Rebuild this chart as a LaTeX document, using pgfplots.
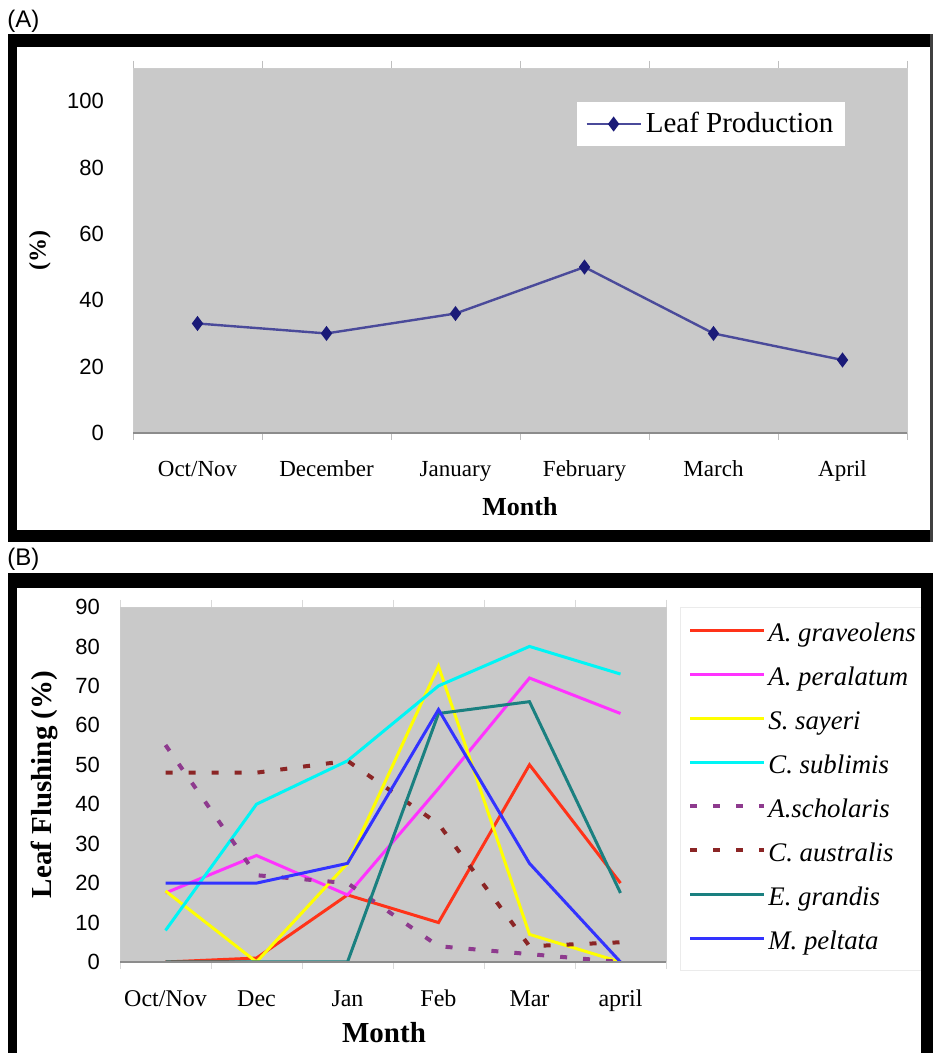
\documentclass[border=0pt]{standalone}
\usepackage{fontspec}
\setmainfont{Liberation Serif}
\setsansfont{Liberation Sans}
\usepackage{pgfplots}
\pgfplotsset{compat=1.18}

\definecolor{plotgray}{HTML}{C9C9C9}
\definecolor{lineA}{HTML}{4A4A9A}
\definecolor{markA}{HTML}{1A1A78}
\definecolor{cRed}{HTML}{FF3319}
\definecolor{cMag}{HTML}{FF33FF}
\definecolor{cYel}{HTML}{FFFF00}
\definecolor{cCya}{HTML}{00F5F5}
\definecolor{cPur}{HTML}{8E3A8E}
\definecolor{cBro}{HTML}{8B2525}
\definecolor{cTea}{HTML}{1A8080}
\definecolor{cBlu}{HTML}{3333FF}

\begin{document}
\begin{tikzpicture}
\useasboundingbox (0,0) rectangle (468pt,526.5pt);
\fill[white] (0,0) rectangle (468pt,526.5pt);

% ---------- Panel A ----------
\begin{axis}[
  at={(66.5pt,310pt)}, anchor=south west,
  scale only axis, width=387pt, height=182.5pt,
  xmin=-0.5, xmax=5.5, ymin=0, ymax=110,
  axis background/.style={fill=plotgray, draw=black!20},
  axis line style={draw=none},
  xtick={0,...,5},
  xticklabels={Oct/Nov,December,January,February,March,April},
  ytick={0,20,...,100},
  major tick length=0pt,
  tick style={draw=none},
  extra x ticks={-0.5,0.5,...,5.5},
  extra x tick labels={},
  extra x tick style={major tick length=3.5pt, tick align=outside, tick style={draw=black!25, thin}},
  /pgf/number format/assume math mode=true,
  xticklabel style={font=\fontsize{11.5}{13}\selectfont, anchor=base, yshift=-22pt},
  yticklabel style={font=\sffamily\fontsize{11}{13}\selectfont, anchor=east, xshift=-11pt},
  xlabel={Month}, ylabel={(\%)},
  xlabel style={font=\bfseries\fontsize{13}{15}\selectfont, at={(axis description cs:0.5,0)}, anchor=center, yshift=-37pt},
  ylabel style={font=\bfseries\fontsize{12}{14}\selectfont, at={(axis description cs:-0.1202,0.5)}, anchor=center},
  legend style={at={(axis description cs:0.921,0.907)}, anchor=north east, draw=none, fill=white,
    font=\fontsize{14.5}{16}\selectfont, inner xsep=4pt, inner ysep=3pt, nodes={inner sep=2pt}},
  legend image code/.code={\draw[mark repeat=2,mark phase=2,#1] plot coordinates {(0pt,0pt) (13.5pt,0pt) (27pt,0pt)};},
  extra description/.code={\draw[black!45, line width=0.6pt] (rel axis cs:0,0) -- (rel axis cs:1,0);},
]
\addplot[color=lineA, line width=1.2pt, mark=diamond*, mark size=2.8pt, mark options={fill=markA, draw=markA}]
  coordinates {(0,33) (1,30) (2,36) (3,50) (4,30) (5,22)};
\addlegendentry{Leaf Production}
\end{axis}

% ---------- Panel B ----------
\begin{axis}[
  at={(60pt,45.5pt)}, anchor=south west,
  scale only axis, width=273pt, height=177.5pt,
  xmin=-0.5, xmax=5.5, ymin=0, ymax=90,
  axis background/.style={fill=plotgray, draw=black!20},
  axis line style={draw=none},
  xtick={0,...,5},
  xticklabels={Oct/Nov,Dec,Jan,Feb,Mar,april},
  ytick={0,10,...,90},
  major tick length=0pt,
  tick style={draw=none},
  extra x ticks={-0.5,0.5,...,5.5},
  extra x tick labels={},
  extra x tick style={major tick length=3.5pt, tick align=outside, tick style={draw=black!15, thin}},
  /pgf/number format/assume math mode=true,
  xticklabel style={font=\fontsize{12}{14}\selectfont, anchor=base, yshift=-22.5pt},
  yticklabel style={font=\sffamily\fontsize{11}{13}\selectfont, anchor=east, xshift=-6.5pt},
  xlabel={Month}, ylabel={Leaf Flushing (\%)},
  xlabel style={font=\bfseries\fontsize{14.5}{16}\selectfont, at={(axis description cs:0.5,0)}, anchor=center, yshift=-35.5pt, xshift=-4.5pt},
  ylabel style={font=\bfseries\fontsize{14.5}{16}\selectfont, at={(axis description cs:-0.1374,0.5)}, anchor=center},
  legend style={at={(axis description cs:1.0256,1.0)}, anchor=north west, draw=black!8, fill=white,
    font=\itshape\fontsize{13.4}{15}\selectfont, inner xsep=4pt, inner ysep=7.5pt,
    nodes={inner xsep=1pt, inner ysep=0pt, text height=9.5pt, text depth=3pt}, row sep=9.5pt},
  legend cell align=left,
  legend image code/.code={\draw[#1] (0pt,0.5ex) -- (37pt,0.5ex);},
  extra description/.code={\draw[black!45, line width=0.6pt] (rel axis cs:0,0) -- (rel axis cs:1,0);},
]
\addplot[color=cRed, line width=1.5pt] coordinates {(0,0) (1,1) (2,17) (3,10) (4,50) (5,20)};
\addlegendentry{A. graveolens}
\addplot[color=cMag, line width=1.5pt] coordinates {(0,17.5) (1,27) (2,17) (3,44) (4,72) (5,63)};
\addlegendentry{A. peralatum}
\addplot[color=cYel, line width=1.5pt] coordinates {(0,18) (1,0) (2,25) (3,75) (4,7) (5,0)};
\addlegendentry{S. sayeri}
\addplot[color=cCya, line width=1.5pt] coordinates {(0,8) (1,40) (2,51) (3,70) (4,80) (5,73)};
\addlegendentry{C. sublimis}
\addplot[color=cPur, line width=2pt, dash pattern=on 3.5pt off 8pt] coordinates {(0,55) (1,22) (2,20) (3,4) (4,2) (5,0)};
\addlegendentry{A.scholaris}
\addplot[color=cBro, line width=2pt, dash pattern=on 3.5pt off 8pt] coordinates {(0,48) (1,48) (2,51) (3,35) (4,4) (5,5)};
\addlegendentry{C. australis}
\addplot[color=cTea, line width=1.5pt] coordinates {(0,0) (1,0) (2,0) (3,63) (4,66) (5,17.5)};
\addlegendentry{E. grandis}
\addplot[color=cBlu, line width=1.5pt] coordinates {(0,20) (1,20) (2,25) (3,64) (4,25) (5,0)};
\addlegendentry{M. peltata}
\end{axis}

% ---------- Frames ----------
% Panel A
\fill[black] (4pt,503pt) rectangle (466.5pt,509.5pt);
\fill[black] (4pt,255.5pt) rectangle (466.5pt,261.5pt);
\fill[black] (4pt,255.5pt) rectangle (8.25pt,509.5pt);
\fill[black!75] (465pt,255.5pt) rectangle (466.5pt,509.5pt);
% Panel B
\fill[black] (4pt,232.5pt) rectangle (466.5pt,240pt);
\fill[black] (4pt,0pt) rectangle (8.25pt,240pt);
\fill[black] (460.5pt,0pt) rectangle (466.5pt,240pt);

% ---------- Panel labels ----------
\node[anchor=base west, inner sep=0pt, font=\sffamily\fontsize{12}{14}\selectfont] at (3.5pt,512.5pt) {(A)};
\node[anchor=base west, inner sep=0pt, font=\sffamily\fontsize{12}{14}\selectfont] at (3.5pt,243.5pt) {(B)};
\end{tikzpicture}
\end{document}
